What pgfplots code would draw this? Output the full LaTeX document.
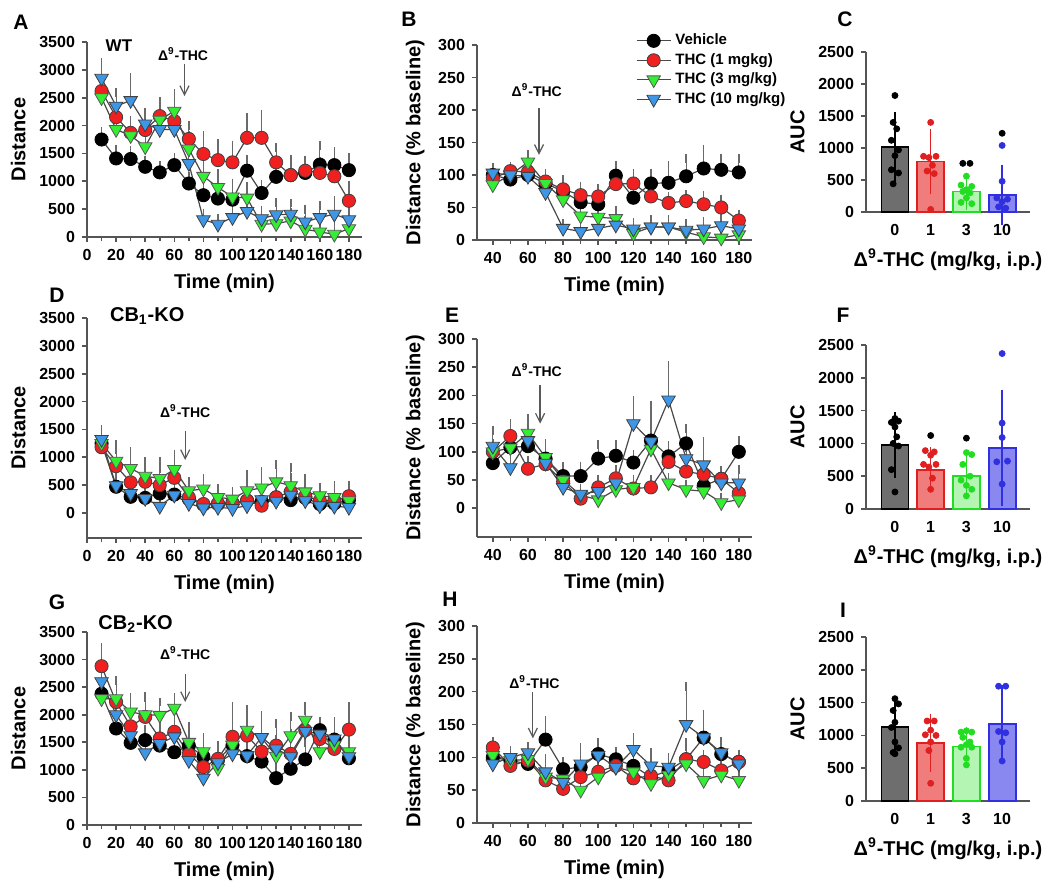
\documentclass[border=0pt]{standalone}
\usepackage{fontspec}
\setmainfont{Liberation Sans}
\usepackage{pgfplots}
\pgfplotsset{compat=1.18}
\usepackage{pgfplotstable}
\usetikzlibrary{arrows.meta}

\definecolor{cred}{HTML}{F02020}
\definecolor{cgreen}{HTML}{33EE33}
\definecolor{cblue}{HTML}{3D96E6}
\definecolor{axgray}{HTML}{555555}
\definecolor{lngray}{HTML}{484848}
\definecolor{ebgray}{HTML}{6A6A6A}
\definecolor{fgray}{HTML}{6E6E6E}
\definecolor{fred}{HTML}{F07C7C}
\definecolor{dred}{HTML}{E02020}
\definecolor{fgreen}{HTML}{B4F5B4}
\definecolor{dgreen}{HTML}{22DD22}
\definecolor{fblue}{HTML}{8888F0}
\definecolor{dblue}{HTML}{3030E0}

\newcommand{\tickf}{\fontsize{8}{9}\selectfont\bfseries}
\newcommand{\labf}{\fontsize{10}{12}\selectfont\bfseries}
\newcommand{\letf}{\fontsize{10.5}{12}\selectfont\bfseries}
\newcommand{\annf}{\fontsize{7}{8}\selectfont\bfseries}
\newcommand{\thc}{Δ\textsuperscript{9}-THC}

\tikzset{arr/.style={draw=gray!70!black, line width=0.6pt, -{Straight Barb[length=4.5pt,width=4.5pt]}}}

\pgfplotstableread{
x v ve r re g ge b be
10 1750 150 2620 230 2500 200 2850 280
20 1410 170 2150 200 1930 250 2350 240
30 1400 150 1870 220 1820 200 2450 410
40 1260 120 1920 230 1620 250 2030 200
50 1160 120 2170 260 2100 250 1930 200
60 1290 130 2080 250 2260 320 1930 200
70 960 120 1760 240 1580 250 1320 200
80 750 150 1490 330 1090 300 310 120
90 690 150 1380 300 890 250 230 100
100 670 150 1340 310 720 250 350 120
110 1190 200 1780 360 700 200 460 150
120 790 150 1780 420 230 150 330 150
130 1080 150 1340 260 240 150 400 220
140 1110 200 1110 290 290 150 410 200
150 1150 230 1190 190 140 150 270 230
160 1300 340 1150 200 90 150 350 210
170 1290 250 1090 260 50 150 410 250
180 1200 220 650 270 150 150 310 160
}\tA

\pgfplotstableread{
x v ve r re g ge b be
40 100 8 95 8 85 10 103 8
50 93 8 106 8 100 8 100 8
60 100 8 105 10 120 12 98 8
70 87 10 90 12 87 10 73 10
80 75 10 78 15 62 10 18 8
90 58 10 69 13 37 10 13 8
100 55 10 67 13 35 8 18 8
110 99 16 86 12 33 12 23 8
120 65 10 87 16 10 10 17 10
130 87 16 67 12 20 10 20 12
140 88 27 57 10 20 10 20 12
150 98 27 60 10 12 10 15 10
160 110 30 55 13 5 10 17 12
170 108 18 50 12 3 10 22 12
180 104 21 30 10 8 10 17 10
}\tB

\pgfplotstableread{
x v ve r re g ge b be
10 1250 150 1180 200 1250 200 1320 180
20 470 150 840 300 930 300 490 150
30 290 120 550 300 800 300 350 120
40 270 120 560 250 660 270 260 100
50 350 150 500 300 620 300 120 100
60 330 100 630 300 780 280 320 100
70 250 100 280 200 400 160 170 100
80 150 100 160 200 430 190 90 100
90 160 100 170 150 280 160 100 100
100 180 100 180 150 250 130 80 100
110 220 150 220 200 400 290 130 150
120 200 150 130 200 450 300 240 150
130 280 150 280 250 560 310 210 150
140 230 150 380 250 490 320 320 150
150 270 150 300 200 380 240 220 150
160 160 100 220 150 310 150 130 100
170 170 100 220 150 280 220 120 100
180 230 150 300 200 220 280 100 100
}\tD

\pgfplotstableread{
x v ve r re g ge b be
40 80 15 100 15 100 15 110 28
50 108 40 128 22 107 15 72 15
60 110 15 70 15 133 25 120 40
70 88 15 78 15 90 25 80 15
80 57 18 47 15 50 15 37 15
90 57 18 17 15 23 10 25 10
100 88 25 37 15 15 10 30 10
110 93 20 53 15 33 10 45 15
120 81 15 35 15 37 15 150 42
130 120 62 37 15 105 20 118 65
140 92 20 82 20 45 10 192 61
150 115 27 65 15 33 10 88 20
160 40 20 60 15 30 10 77 41
170 52 15 52 15 10 10 45 15
180 100 20 27 15 15 10 45 23
}\tE

\pgfplotstableread{
x v ve r re g ge b be
10 2380 300 2880 340 2290 300 2600 300
20 1750 300 2230 380 2290 330 2000 300
30 1490 300 1790 400 2050 270 1620 300
40 1540 200 1960 350 2000 330 1310 300
50 1440 200 1570 300 1990 240 1480 300
60 1320 200 1690 450 2120 200 1600 300
70 1440 250 1280 300 1500 280 1170 300
80 1240 200 1050 300 1330 250 850 300
90 1180 200 1200 250 1030 300 1130 300
100 1450 300 1600 550 1450 300 1290 300
110 1250 250 1620 460 1720 380 1260 300
120 1150 250 1330 450 1580 300 1590 400
130 850 200 1440 400 1250 300 1380 450
140 1020 250 1290 380 1620 350 1240 350
150 1190 300 1720 350 1900 250 1700 400
160 1720 160 1560 300 1330 300 1650 230
170 1550 300 1380 300 1450 420 1560 300
180 1210 300 1730 420 1330 200 1240 300
}\tG

\pgfplotstableread{
x v ve r re g ge b be
40 100 10 115 10 103 10 90 10
50 95 10 87 10 95 10 100 10
60 90 10 95 10 97 10 107 10
70 127 29 65 15 70 15 78 20
80 82 12 52 12 67 10 62 10
90 85 15 70 12 50 10 90 25
100 105 17 78 12 70 10 103 19
110 97 12 87 12 85 10 85 12
120 87 12 68 12 78 12 112 18
130 70 12 72 12 60 10 87 20
140 80 12 65 12 73 10 85 15
150 97 20 97 25 90 12 150 58
160 130 30 93 12 65 10 130 35
170 105 15 80 12 73 10 107 17
180 93 12 93 12 65 10 90 15
}\tH

\pgfplotsset{
  mybase/.style={scale only axis, axis lines=left,
    axis line style={-, draw=axgray, line width=1pt},
    tick style={draw=axgray, line width=0.8pt}, tick align=outside,
    major tick length=2.5pt, minor tick length=2pt,
    ticklabel style={font=\tickf},
    /pgf/number format/assume math mode=true,
    /pgf/number format/1000 sep={},
    label style={font=\labf}, clip=false},
  timeA/.style={mybase, width=137.5pt, xmin=0, xmax=189,
    xtick={0,20,...,180}, minor xtick={10,30,...,170},
    ytick={0,500,...,3500}, ymax=3500,
    xlabel={Time (min)}, ylabel={Distance}},
  timeB/.style={mybase, width=137.5pt, xmin=31, xmax=187.5,
    xtick={40,60,...,180}, minor xtick={50,70,...,170},
    ytick={0,50,...,300}, ymax=300,
    xlabel={Time (min)}, ylabel={Distance (\% baseline)}},
  barp/.style={mybase, width=82pt, height=82pt, xmin=-0.81, xmax=3.78, ymin=0, ymax=2500,
    ytick={0,500,...,2500}, xtick={0,1,2,3}, xticklabels={0,1,3,10},
    xtick style={draw=none}, ylabel={AUC}, xlabel={\thc\ (mg/kg, i.p.)}},
  sV/.style={draw=lngray, line width=0.6pt, mark=*, mark size=3.3pt,
    mark options={draw=black, fill=black, line width=0.4pt}},
  sR/.style={draw=lngray, line width=0.6pt, mark=*, mark size=3.3pt,
    mark options={draw=black!75, fill=cred, line width=0.4pt}},
  sG/.style={draw=lngray, line width=0.6pt, mark=triangle*, mark size=3.9pt,
    mark options={rotate=180, draw=black!65, fill=cgreen, line width=0.4pt}},
  sB/.style={draw=lngray, line width=0.6pt, mark=triangle*, mark size=3.9pt,
    mark options={rotate=180, draw=black!75, fill=cblue, line width=0.4pt}},
  eb/.style={error bars/.cd, y dir=plus, y explicit, error mark=-,
    error bar style={draw=ebgray, line width=0.6pt},
    error mark options={draw=ebgray, line width=0.8pt, mark size=2.2pt}},
  mybar/.style 2 args={ybar, bar width=13.5pt, bar shift=0pt, fill=#1, draw=#2, line width=0.9pt,
    error bars/.cd, y dir=both, y explicit,
    error bar style={draw=#2, line width=0.8pt},
    error mark options={draw=#2, line width=0.8pt, mark size=4pt}},
  mydots/.style={only marks, mark=*, mark size=1.5pt, draw=#1, fill=#1, mark options={draw=#1, fill=#1}},
}

\newcommand{\fourseries}[1]{%
  \addplot[sV,eb] table[x=x,y=v,y error=ve]{#1};
  \addplot[sR,eb] table[x=x,y=r,y error=re]{#1};
  \addplot[sG,eb] table[x=x,y=g,y error=ge]{#1};
  \addplot[sB,eb] table[x=x,y=b,y error=be]{#1};}

\begin{document}
\begin{tikzpicture}
\path[use as bounding box] (0,0) rectangle (525pt,-444pt);

% ---------- A ----------
\begin{axis}[timeA, at={(43.5pt,-118.5pt)}, anchor=south west, height=97.5pt, ymin=0]
\fourseries{\tA}
\node[font=\fontsize{8.5}{10}\selectfont\bfseries, anchor=west] at (axis cs:8,3440) {WT};
\node[font=\annf] at (axis cs:66,3290) {\thc};
\draw[arr] (axis cs:67,3110) -- (axis cs:67,2530);
\end{axis}

% ---------- B ----------
\begin{axis}[timeB, at={(238.5pt,-120pt)}, anchor=south west, height=97.5pt, ymin=0,
  legend style={draw=none, fill=none, at={(0.555,1.10)}, anchor=north west,
    font=\fontsize{7.5}{9}\selectfont\bfseries, row sep=-1.2pt},
  legend cell align=left]
\fourseries{\tB}
\legend{Vehicle, THC (1 mgkg), THC (3 mg/kg), THC (10 mg/kg)}
\node[font=\annf] at (axis cs:65,231) {\thc};
\draw[arr] (axis cs:66.3,203) -- (axis cs:66.3,131);
\end{axis}

% ---------- C ----------
\begin{axis}[barp, at={(433pt,-106pt)}, anchor=south west, height=80pt]
\addplot[mybar={fgray}{black}] coordinates {(0,1010) +- (0,420)};
\addplot[mybar={fred}{dred}] coordinates {(1,790) +- (0,385)};
\addplot[mybar={fgreen}{dgreen}] coordinates {(2,320) +- (0,160)};
\addplot[mybar={fblue}{dblue}] coordinates {(3,265) +- (0,350)};
\addplot[mydots=black] coordinates {(0,1820) (-0.05,1400) (0.05,1300) (-0.1,1120) (0.1,970) (0,880) (-0.1,660) (0.1,610) (-0.05,440)};
\addplot[mydots=dred] coordinates {(1,1400) (0.8,870) (0.95,850) (1.15,870) (1.05,730) (0.9,640) (1.1,600) (1,40)};
\addplot[mydots=black] coordinates {(1.9,760) (2.1,760) (3,1230)};
\addplot[mydots=dgreen] coordinates {(2,560) (1.85,420) (2.15,400) (2,350) (1.9,320) (2.1,300) (2,220) (1.85,150) (2.15,130)};
\addplot[mydots=dblue] coordinates {(3,1040) (3,480) (2.85,220) (3.15,200) (3,160) (2.9,80) (3.1,60)};
\end{axis}

% ---------- D ----------
\begin{axis}[timeA, at={(43.5pt,-269pt)}, anchor=south west, height=110pt, ymin=-450]
\fourseries{\tD}
\node[font=\fontsize{10}{12}\selectfont\bfseries, anchor=west] at (axis cs:11,3530) {CB\textsubscript{1}-KO};
\node[font=\annf] at (axis cs:67.5,1830) {\thc};
\draw[arr] (axis cs:67.5,1480) -- (axis cs:67.5,950);
\end{axis}

% ---------- E ----------
\begin{axis}[timeB, at={(238.5pt,-268.5pt)}, anchor=south west, height=99pt, ymin=-51]
\fourseries{\tE}
\node[font=\annf] at (axis cs:65,245) {\thc};
\draw[arr] (axis cs:66.9,218) -- (axis cs:66.9,150);
\end{axis}

% ---------- F ----------
\begin{axis}[barp, at={(433pt,-254.5pt)}, anchor=south west]
\addplot[mybar={fgray}{black}] coordinates {(0,980) +- (0,380)};
\addplot[mybar={fred}{dred}] coordinates {(1,600) +- (0,225)};
\addplot[mybar={fgreen}{dgreen}] coordinates {(2,500) +- (0,225)};
\addplot[mybar={fblue}{dblue}] coordinates {(3,930) +- (0,760)};
\addplot[mydots=black] coordinates {(0,1380) (0.1,1340) (-0.1,1320) (0,1250) (0.05,1100) (-0.05,1000) (0.1,960) (-0.1,600) (0,260) (1,1120) (2,1080)};
\addplot[mydots=dred] coordinates {(0.85,890) (1.1,870) (1,820) (0.8,680) (1.15,680) (0.95,640) (1.05,470) (1,300)};
\addplot[mydots=dgreen] coordinates {(2,860) (2.15,830) (1.9,680) (2.1,500) (1.85,440) (2,360) (2.15,300) (2,200)};
\addplot[mydots=dblue] coordinates {(3,2370) (3,1310) (3,1090) (2.85,720) (3.15,730) (3,380)};
\end{axis}

% ---------- G ----------
\begin{axis}[timeA, at={(43.5pt,-412.5pt)}, anchor=south west, height=96.5pt, ymin=0]
\fourseries{\tG}
\node[font=\fontsize{10}{12}\selectfont\bfseries, anchor=west] at (axis cs:3,3650) {CB\textsubscript{2}-KO};
\node[font=\annf] at (axis cs:67.5,3110) {\thc};
\draw[arr] (axis cs:67.5,2730) -- (axis cs:67.5,2230);
\end{axis}

% ---------- H ----------
\begin{axis}[timeB, at={(238.5pt,-411.5pt)}, anchor=south west, height=98.5pt, ymin=0]
\fourseries{\tH}
\node[font=\annf] at (axis cs:63.7,215) {\thc};
\draw[arr] (axis cs:62.8,200) -- (axis cs:62.8,129);
\end{axis}

% ---------- I ----------
\begin{axis}[barp, at={(433pt,-400.5pt)}, anchor=south west]
\addplot[mybar={fgray}{black}] coordinates {(0,1130) +- (0,330)};
\addplot[mybar={fred}{dred}] coordinates {(1,890) +- (0,320)};
\addplot[mybar={fgreen}{dgreen}] coordinates {(2,830) +- (0,180)};
\addplot[mybar={fblue}{dblue}] coordinates {(3,1170) +- (0,470)};
\addplot[mydots=black] coordinates {(0,1560) (0.1,1480) (-0.05,1380) (0,1200) (-0.1,1120) (0,900) (0.1,810) (-0.05,740) (0,720)};
\addplot[mydots=dred] coordinates {(0.9,1220) (1.1,1220) (1,1080) (0.85,1010) (1.15,1000) (1,900) (0.95,770) (1,270)};
\addplot[mydots=dgreen] coordinates {(1.85,1050) (2,1070) (2.15,1050) (1.9,970) (2.1,900) (2,860) (1.85,820) (2.15,820) (2,650) (2,550)};
\addplot[mydots=dblue] coordinates {(2.9,1750) (3.1,1750) (2.9,1060) (3.1,1040) (3,900) (3,610)};
\end{axis}

% panel letters
\node[font=\letf] at (10.5pt,-11pt) {A};
\node[font=\letf] at (204.5pt,-9.5pt) {B};
\node[font=\letf] at (422.5pt,-9.5pt) {C};
\node[font=\letf] at (28.5pt,-147.5pt) {D};
\node[font=\letf] at (226pt,-157.5pt) {E};
\node[font=\letf] at (421.5pt,-157.5pt) {F};
\node[font=\letf] at (28.5pt,-301pt) {G};
\node[font=\letf] at (225pt,-299.5pt) {H};
\node[font=\letf] at (421.5pt,-305pt) {I};
\end{tikzpicture}
\end{document}
